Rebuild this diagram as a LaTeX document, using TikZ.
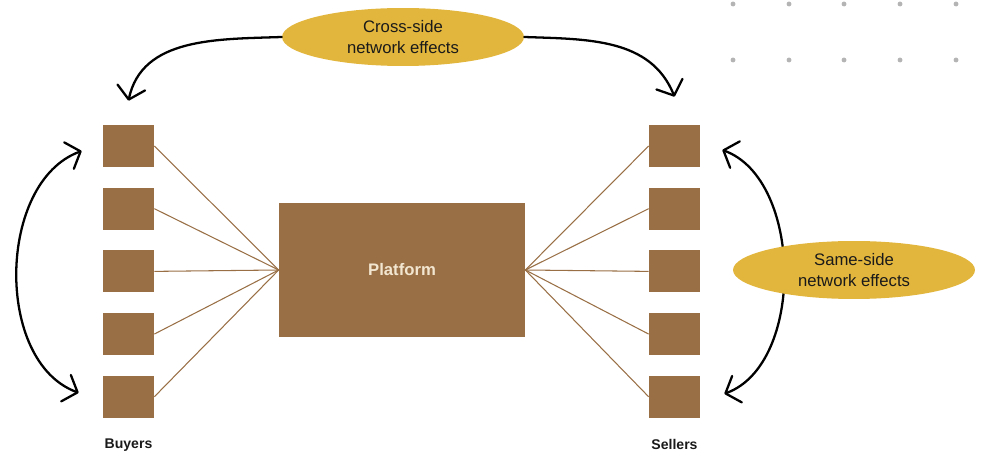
\documentclass[tikz,border=0pt]{standalone}
\usepackage{fontspec}
\setmainfont{Liberation Sans}
\usetikzlibrary{arrows.meta,positioning,shapes.geometric}
\definecolor{brownbox}{HTML}{996F45}
\definecolor{gold}{HTML}{E2B63C}
\definecolor{dotgrey}{HTML}{B4B4B4}
\definecolor{paletext}{HTML}{F2E6D0}
\definecolor{darktext}{HTML}{1A1A1A}

\begin{document}
\begin{tikzpicture}[x=0.02cm, y=0.02cm,
  party/.style={rectangle, fill=brownbox, minimum width=1.02cm, minimum height=0.84cm, inner sep=0pt},
  hub/.style={rectangle, fill=brownbox, minimum width=4.92cm, minimum height=2.7cm,
              font=\fontsize{9.5}{11}\selectfont\bfseries, text=paletext},
  effect/.style={ellipse, fill=gold, minimum width=4.84cm, minimum height=1.16cm, inner sep=0pt,
                 align=center, font=\fontsize{9.5}{11.5}\selectfont, text=darktext},
  link/.style={draw=brownbox, line width=0.6pt},
  pull/.style={line width=1.3pt, line cap=round, line join=round,
               -{Straight Barb[length=7pt,width=16pt,round]}},
  pullboth/.style={pull, {Straight Barb[length=7pt,width=16pt,round]}-{Straight Barb[length=7pt,width=16pt,round]}},
  side/.style={font=\fontsize{8}{10}\selectfont\bfseries, text=darktext},
  node distance=0.4cm,
]
  \useasboundingbox (0,0) rectangle (983,453);

  % grey dot grid, top right
  \foreach \x in {733,789,844,900,956}
    \foreach \y in {449,393}
      \fill[dotgrey] (\x,\y) circle (1.4pt);

  % the two sides of the market
  \node[party] (buyer1) at (128.5,307) {};
  \node[party, below=of buyer1] (buyer2) {};
  \node[party, below=of buyer2] (buyer3) {};
  \node[party, below=of buyer3] (buyer4) {};
  \node[party, below=of buyer4] (buyer5) {};

  \node[party] (seller1) at (674.5,307) {};
  \node[party, below=of seller1] (seller2) {};
  \node[party, below=of seller2] (seller3) {};
  \node[party, below=of seller3] (seller4) {};
  \node[party, below=of seller4] (seller5) {};

  \node[hub] (platform) at (402,183) {Platform};

  \foreach \i in {1,...,5} {
    \draw[link] (buyer\i.east) -- (platform.west);
    \draw[link] (seller\i.west) -- (platform.east);
  }

  \node[side, below=0.3cm of buyer5] (buyers) {Buyers};
  \node[side, below=0.3cm of seller5] (sellers) {Sellers};

  % cross-side effects
  \node[effect] (cross) at (403,416) {Cross-side\\network effects};
  \draw[pull] (cross.west) to[out=182,in=78] ([yshift=0.48cm]buyer1.north);
  \draw[pull] (cross.east) to[out=-2,in=112] ([yshift=0.56cm]seller1.north);

  % same-side effects
  \draw[pullboth] ([xshift=-0.42cm,yshift=-0.1cm]buyer1.west)
    to[out=200,in=160,looseness=0.95] ([xshift=-0.48cm,yshift=0.08cm]buyer5.west);
  \draw[pullboth] ([xshift=0.44cm,yshift=-0.08cm]seller1.east)
    to[out=-20,in=20,looseness=0.9] ([xshift=0.48cm,yshift=0.06cm]seller5.east);
  \node[effect] (same) at (854,183) {Same-side\\network effects};
\end{tikzpicture}
\end{document}
